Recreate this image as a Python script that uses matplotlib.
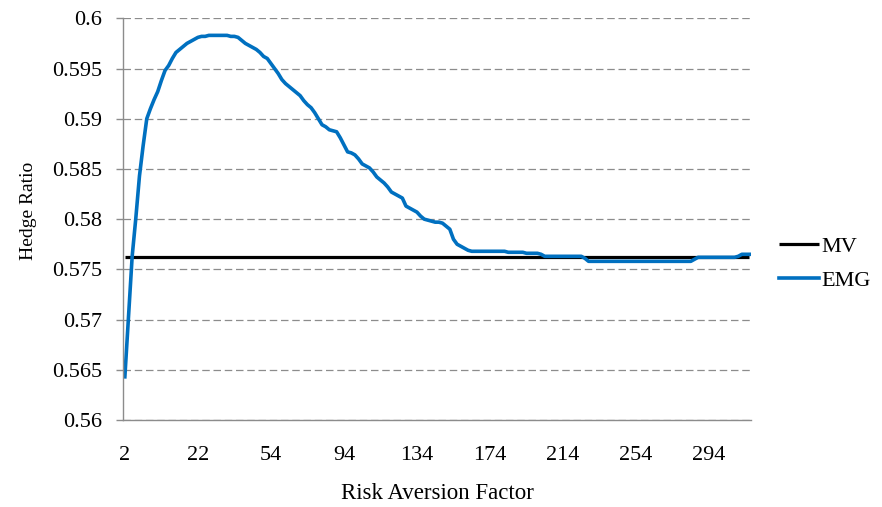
import numpy as np
import matplotlib
matplotlib.use("Agg")
import matplotlib.pyplot as plt

# Risk aversion factor (category axis)
risk_aversion = list(range(2, 31)) + list(range(32, 318, 2))

# EMG hedge ratio, one value per category
emg_ratio = [
    0.5643, 0.5703, 0.5763, 0.5801, 0.5843, 0.5873, 0.5900, 0.5910, 0.5919, 0.5927,
    0.5938, 0.5948, 0.5953, 0.5960, 0.5966, 0.5969, 0.5972, 0.5975, 0.5977, 0.5979,
    0.5981, 0.5982, 0.5982, 0.5983, 0.5983, 0.5983, 0.5983, 0.5983, 0.5983, 0.5982,
    0.5982, 0.5981, 0.5978, 0.5975, 0.5973, 0.5971, 0.5969, 0.5966, 0.5962, 0.5960,
    0.5955, 0.5950, 0.5945, 0.5939, 0.5935, 0.5932, 0.5929, 0.5926, 0.5923, 0.5918,
    0.5914, 0.5911, 0.5906, 0.5900, 0.5894, 0.5892, 0.5889, 0.5888, 0.5887, 0.5881,
    0.5874, 0.5867, 0.5866, 0.5864, 0.5860, 0.5855, 0.5853, 0.5851, 0.5847, 0.5842,
    0.5839, 0.5836, 0.5832, 0.5827, 0.5825, 0.5823, 0.5821, 0.5813, 0.5811, 0.5809,
    0.5807, 0.5803, 0.5800, 0.5799, 0.5798, 0.5797, 0.5797, 0.5796, 0.5793, 0.5790,
    0.5780, 0.5775, 0.5773, 0.5771, 0.5769, 0.5768, 0.5768, 0.5768, 0.5768, 0.5768,
    0.5768, 0.5768, 0.5768, 0.5768, 0.5768, 0.5767, 0.5767, 0.5767, 0.5767, 0.5767,
    0.5766, 0.5766, 0.5766, 0.5766, 0.5765, 0.5763, 0.5763, 0.5763, 0.5763, 0.5763,
    0.5763, 0.5763, 0.5763, 0.5763, 0.5763, 0.5763, 0.5761, 0.5758, 0.5758, 0.5758,
    0.5758, 0.5758, 0.5758, 0.5758, 0.5758, 0.5758, 0.5758, 0.5758, 0.5758, 0.5758,
    0.5758, 0.5758, 0.5758, 0.5758, 0.5758, 0.5758, 0.5758, 0.5758, 0.5758, 0.5758,
    0.5758, 0.5758, 0.5758, 0.5758, 0.5758, 0.5758, 0.5760, 0.5762, 0.5762, 0.5762,
    0.5762, 0.5762, 0.5762, 0.5762, 0.5762, 0.5762, 0.5762, 0.5762, 0.5763, 0.5765,
    0.5765, 0.5765,
]

# MV hedge ratio is constant
mv_ratio = 0.57626

y_ticks = [0.56, 0.565, 0.57, 0.575, 0.58, 0.585, 0.59, 0.595, 0.6]
y_labels = ["0.56", "0.565", "0.57", "0.575", "0.58", "0.585", "0.59", "0.595", "0.6"]

plt.rcParams['font.family'] = ['Liberation Serif', 'DejaVu Serif']

fig = plt.figure(figsize=(8.82, 5.07), dpi=100)
ax = fig.add_axes([0.1395, 0.1716, 0.712, 0.7923])

idx = np.arange(len(risk_aversion))
ax.plot(idx, np.full(len(idx), mv_ratio), color='black', lw=2.3, label='MV',
        solid_capstyle='butt')
ax.plot(idx, emg_ratio, color='#0070C0', lw=2.6, label='EMG', solid_joinstyle='round')

ax.set_xlim(-0.5, len(idx) - 0.5)
ax.set_ylim(0.56, 0.6)

ax.set_yticks(y_ticks)
ax.set_yticklabels(y_labels)
tick_pos = idx[::20]
ax.set_xticks(tick_pos)
ax.set_xticklabels([str(risk_aversion[i]) for i in tick_pos])

ax.grid(axis='y', color='#8c8c8c', linestyle=(0, (6, 3)), lw=0.9)
ax.set_axisbelow(True)
for s in ['top', 'right']:
    ax.spines[s].set_visible(False)
for s in ['left', 'bottom']:
    ax.spines[s].set_color('#8c8c8c')
    ax.spines[s].set_linewidth(1.0)

ax.tick_params(axis='y', direction='out', length=5, width=1, color='#8c8c8c',
               labelsize=16, pad=10)
ax.tick_params(axis='x', length=0, labelsize=16, pad=19)

ax.set_xlabel('Risk Aversion Factor', fontsize=16.5, labelpad=13)
ax.set_ylabel('Hedge Ratio', fontsize=14)
ax.yaxis.set_label_coords(-0.137, 0.52)

fig.legend(loc='center left', bbox_to_anchor=(0.86, 0.48), frameon=False,
           fontsize=16, handlelength=1.8, handletextpad=0.15, labelspacing=0.6)

fig.savefig('out.png', dpi=100)
